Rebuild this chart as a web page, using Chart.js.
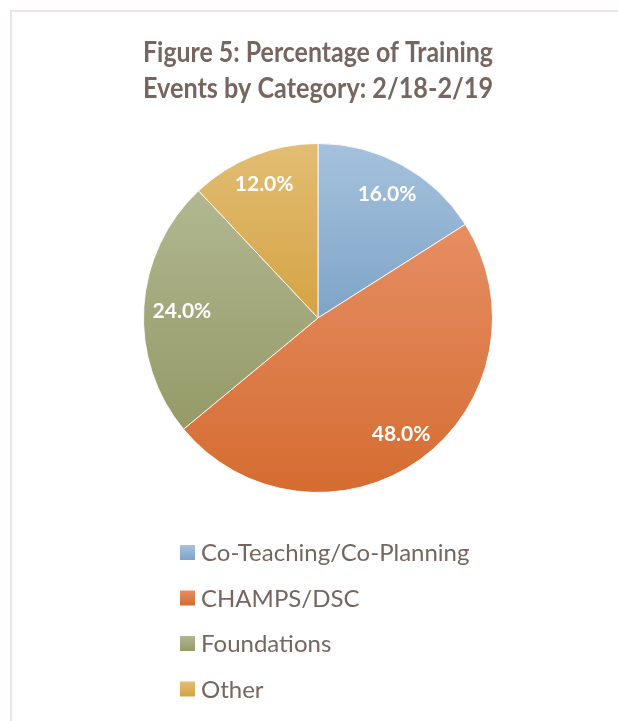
<!DOCTYPE html>
<html>
<head>
<meta charset="utf-8">
<script src="https://cdn.jsdelivr.net/npm/chart.js@4.4.1/dist/chart.umd.min.js"></script>
<style>
  html, body { margin: 0; padding: 0; background: #fff; overflow: hidden; }
  #wrap { position: relative; width: 618px; height: 721px; }
  #frame { position: absolute; left: 10px; top: 10px; width: 640px; height: 740px;
           border-left: 2px solid #ebe6e4; border-top: 2px solid #ebe6e4; }
  canvas { position: absolute; left: 0; top: 0; }
</style>
</head>
<body>
<div id="wrap">
  <div id="frame"></div>
  <canvas id="pie" width="618" height="721"></canvas>
</div>
<script>
// ==================== DATA ====================
const titleLines = ['Figure 5: Percentage of Training', 'Events by Category: 2/18-2/19'];
const categories = ['Co-Teaching/Co-Planning', 'CHAMPS/DSC', 'Foundations', 'Other'];
const percents = [16.0, 48.0, 24.0, 12.0];

// gradient colors per slice (top -> bottom)
const sliceTop = ['#a5c2dd', '#e68e63', '#b1b791', '#e2bd74'];
const sliceBottom = ['#7ea4c7', '#d56c31', '#959a67', '#d5a343'];

const TEXT_COLOR = '#76665f';
const FONT = "Lato, 'Open Sans', sans-serif";

// ==================== HELPERS ====================
// vertical extent of a slice, so every slice gets its own top->bottom gradient
function sliceYRange(cy, r, a0, a1) {
    const ys = [cy, cy + r * Math.sin(a0), cy + r * Math.sin(a1)];
    const has = (t) => {
        let x = t;
        while (x < a0) x += Math.PI * 2;
        return x <= a1;
    };
    if (has(Math.PI / 2)) ys.push(cy + r);
    if (has(-Math.PI / 2)) ys.push(cy - r);
    return [Math.min(...ys), Math.max(...ys)];
}

function sliceFill(ctx) {
    const i = ctx.dataIndex;
    const chart = ctx.chart;
    const ca = chart.chartArea;
    if (!ca) return sliceBottom[i];
    const cx = (ca.left + ca.right) / 2;
    const cy = (ca.top + ca.bottom) / 2;
    const r = Math.min(ca.right - ca.left, ca.bottom - ca.top) / 2;
    const total = percents.reduce((a, b) => a + b, 0);
    let a0 = -Math.PI / 2;
    for (let k = 0; k < i; k++) a0 += percents[k] / total * Math.PI * 2;
    const a1 = a0 + percents[i] / total * Math.PI * 2;
    const [y0, y1] = sliceYRange(cy, r, a0, a1);
    const g = chart.ctx.createLinearGradient(0, y0, 0, y1);
    g.addColorStop(0, sliceTop[i]);
    g.addColorStop(1, sliceBottom[i]);
    return g;
}

// ==================== PLUGINS ====================
// white percentage labels inside the slices
const sliceLabels = {
    id: 'sliceLabels',
    afterDatasetsDraw(chart) {
        const c = chart.ctx;
        const meta = chart.getDatasetMeta(0);
        c.save();
        c.font = `bold 21px ${FONT}`;
        c.fillStyle = '#ffffff';
        c.textAlign = 'center';
        c.textBaseline = 'middle';
        meta.data.forEach((arc, i) => {
            const p = arc.getProps(['x', 'y', 'startAngle', 'endAngle', 'outerRadius'], true);
            const mid = (p.startAngle + p.endAngle) / 2;
            const txt = percents[i].toFixed(1) + '%';
            const hw = c.measureText(txt).width / 2;
            const hh = 8;
            let d = p.outerRadius * 0.85;
            // pull inward until the text box fits inside the circle
            const fits = (dd) => {
                const tx = Math.cos(mid) * dd, ty = Math.sin(mid) * dd;
                return [[-hw, -hh], [hw, -hh], [-hw, hh], [hw, hh]]
                    .every(([ox, oy]) => Math.hypot(tx + ox, ty + oy) <= p.outerRadius - 8);
            };
            while (d > 0 && !fits(d)) d -= 1;
            c.fillText(txt, p.x + Math.cos(mid) * d, p.y + Math.sin(mid) * d + 2);
        });
        c.restore();
    }
};

// vertical, left aligned legend under the pie
const stackedLegend = {
    id: 'stackedLegend',
    afterDraw(chart, args, opts) {
        const c = chart.ctx;
        c.save();
        c.font = `${opts.fontSize}px ${FONT}`;
        c.textBaseline = 'middle';
        c.textAlign = 'left';
        categories.forEach((name, i) => {
            const cy = opts.top + i * opts.gap;
            const by = cy - opts.box / 2;
            const g = c.createLinearGradient(0, by, 0, by + opts.box);
            g.addColorStop(0, sliceTop[i]);
            g.addColorStop(1, sliceBottom[i]);
            c.fillStyle = g;
            c.fillRect(opts.left, by, opts.box, opts.box);
            c.fillStyle = TEXT_COLOR;
            c.fillText(name, opts.left + opts.box + 6, cy + 1);
        });
        c.restore();
    }
};

// ==================== CHART ====================
new Chart(document.getElementById('pie').getContext('2d'), {
    type: 'pie',
    data: {
        labels: categories,
        datasets: [{
            data: percents,
            backgroundColor: sliceFill,
            borderColor: 'rgba(255,255,255,0.85)',
            borderWidth: 1
        }]
    },
    options: {
        responsive: false,
        animation: false,
        events: [],
        layout: { padding: { left: 143, right: 125, top: 0, bottom: 228 } },
        plugins: {
            legend: { display: false },
            tooltip: { enabled: false },
            title: {
                display: true,
                text: titleLines,
                color: TEXT_COLOR,
                font: { family: FONT, size: 28, weight: 'bold', lineHeight: 1.32 },
                padding: { top: 34, bottom: 35 }
            },
            stackedLegend: { left: 180, top: 552.5, gap: 45.5, box: 15, fontSize: 24 }
        }
    },
    plugins: [sliceLabels, stackedLegend]
});
</script>
</body>
</html>
